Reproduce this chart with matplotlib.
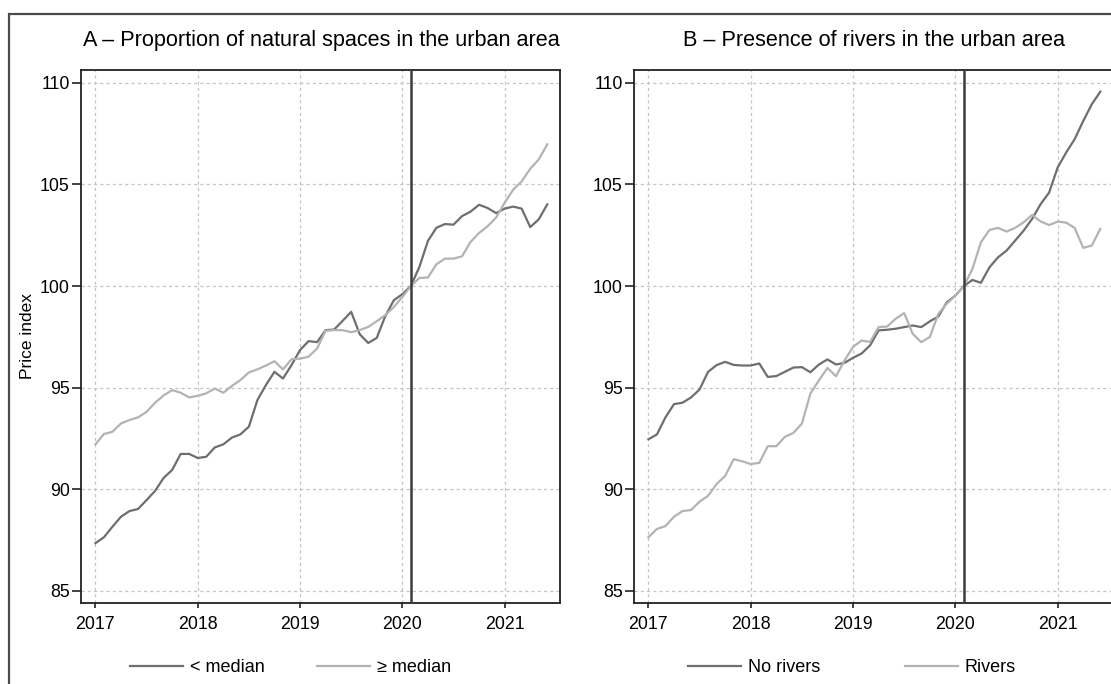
import numpy as np
import matplotlib
matplotlib.use("Agg")
import matplotlib.pyplot as plt
from matplotlib.patches import Rectangle

plt.rcParams['font.family'] = ['Liberation Sans', 'DejaVu Sans']

# Monthly data, Jan 2017 .. Jun 2021 (54 months)
months = np.arange(54)
time = 2017 + months / 12.0

below_median = [87.35, 87.64, 88.16, 88.65, 88.93, 89.03, 89.47, 89.92, 90.56, 90.95, 91.74, 91.74,
                91.54, 91.60, 92.06, 92.21, 92.54, 92.70, 93.08, 94.39, 95.13, 95.78, 95.45, 96.11,
                96.85, 97.29, 97.24, 97.83, 97.86, 98.29, 98.73, 97.63, 97.20, 97.45, 98.52, 99.30,
                99.60, 100.0, 100.94, 102.22, 102.87, 103.05, 103.02, 103.44, 103.66, 104.00, 103.84, 103.59,
                103.81, 103.91, 103.81, 102.90, 103.28, 104.02]
above_median = [92.21, 92.72, 92.83, 93.24, 93.41, 93.54, 93.81, 94.26, 94.62, 94.88, 94.75, 94.52,
                94.60, 94.72, 94.96, 94.75, 95.08, 95.37, 95.75, 95.90, 96.09, 96.30, 95.90, 96.40,
                96.43, 96.52, 96.93, 97.80, 97.83, 97.83, 97.73, 97.83, 97.99, 98.27, 98.57, 98.97,
                99.46, 100.0, 100.40, 100.42, 101.07, 101.35, 101.35, 101.46, 102.17, 102.61, 102.94, 103.37,
                104.10, 104.74, 105.15, 105.77, 106.23, 106.97]
no_rivers = [92.46, 92.70, 93.54, 94.19, 94.26, 94.52, 94.91, 95.78, 96.11, 96.27, 96.12, 96.09,
             96.09, 96.19, 95.53, 95.57, 95.78, 95.99, 96.01, 95.76, 96.14, 96.39, 96.14, 96.22,
             96.47, 96.68, 97.08, 97.82, 97.85, 97.90, 97.98, 98.06, 97.98, 98.26, 98.50, 99.20,
             99.53, 100.0, 100.30, 100.16, 100.92, 101.41, 101.74, 102.23, 102.72, 103.30, 104.03, 104.60,
             105.83, 106.57, 107.23, 108.12, 108.94, 109.56]
rivers = [87.64, 88.05, 88.19, 88.65, 88.93, 88.98, 89.39, 89.68, 90.26, 90.66, 91.48, 91.38,
          91.24, 91.30, 92.12, 92.12, 92.58, 92.77, 93.23, 94.71, 95.36, 95.97, 95.56, 96.34,
          97.00, 97.32, 97.25, 97.98, 98.01, 98.39, 98.67, 97.65, 97.24, 97.49, 98.63, 99.13,
          99.53, 100.0, 100.84, 102.15, 102.76, 102.86, 102.68, 102.86, 103.13, 103.50, 103.18, 103.00,
          103.17, 103.12, 102.86, 101.88, 101.99, 102.81]

year_ticks = [2017, 2018, 2019, 2020, 2021]
y_ticks = [85, 90, 95, 100, 105, 110]
ref_date = 2020 + 1 / 12.0

panels = [
    ("A – Proportion of natural spaces in the urban area", below_median, above_median,
     "< median", "≥ median"),
    ("B – Presence of rivers in the urban area", no_rivers, rivers,
     "No rivers", "Rivers"),
]

dark = "#6e6e6e"
light = "#b3b3b3"

W, H = 1111, 684
fig = plt.figure(figsize=(W / 100, H / 100), dpi=100)

# outer frame (extends beyond the visible canvas)
fig.patches.append(Rectangle((9 / W, -0.2), 1.2, 1 - 14 / H + 0.2, transform=fig.transFigure,
                             fill=False, edgecolor="#4a4a4a", linewidth=1.6, zorder=0))

ax_lefts = [81.4, 634.4]
ax_w = 479.0
ax_top, ax_bot = 70.0, 602.7
# legend entry start positions (pixels)
legend_x = [(130, 317), (688, 905)]
leg_fs = 13
px_per_em = leg_fs * 100 / 72.0

for i, (title, s1, s2, l1, l2) in enumerate(panels):
    ax = fig.add_axes([ax_lefts[i] / W, 1 - ax_bot / H, ax_w / W, (ax_bot - ax_top) / H])
    h1, = ax.plot(time, s1, color=dark, lw=1.6, label=l1, zorder=3)
    h2, = ax.plot(time, s2, color=light, lw=1.6, label=l2, zorder=3)
    ax.axvline(ref_date, color="#3c3c3c", lw=1.8, zorder=4)
    ax.set_xlim(2016.863, 2021.545)
    ax.set_ylim(84.42, 110.63)
    ax.set_xticks(year_ticks)
    ax.set_yticks(y_ticks)
    ax.grid(True, color="#c4c4c4", linestyle=(0, (2.5, 2.5)), linewidth=0.9, zorder=1)
    ax.tick_params(axis="x", direction="out", length=3.8, width=1.2, labelsize=12.8,
                   color="#222222", pad=6)
    ax.tick_params(axis="y", direction="out", length=6.5, width=1.2, labelsize=12.8,
                   color="#222222", pad=2)
    for sp in ax.spines.values():
        sp.set_color("#222222")
        sp.set_linewidth(1.3)
    ax.set_title(title, fontsize=15.6, pad=17)
    for h, lab, xs in zip((h1, h2), (l1, l2), legend_x[i]):
        fig.legend(handles=[h], labels=[lab], loc="center left",
                   bbox_to_anchor=(xs / W, 1 - 668 / H), frameon=False, fontsize=leg_fs,
                   borderpad=0, borderaxespad=0, handlelength=53 / px_per_em,
                   handletextpad=7 / px_per_em)
    if i == 0:
        ax.set_ylabel("Price index", fontsize=12.5)
        ax.yaxis.set_label_coords((34.6 - 81.4) / ax_w, 0.5)

fig.savefig("out.png", dpi=100)
